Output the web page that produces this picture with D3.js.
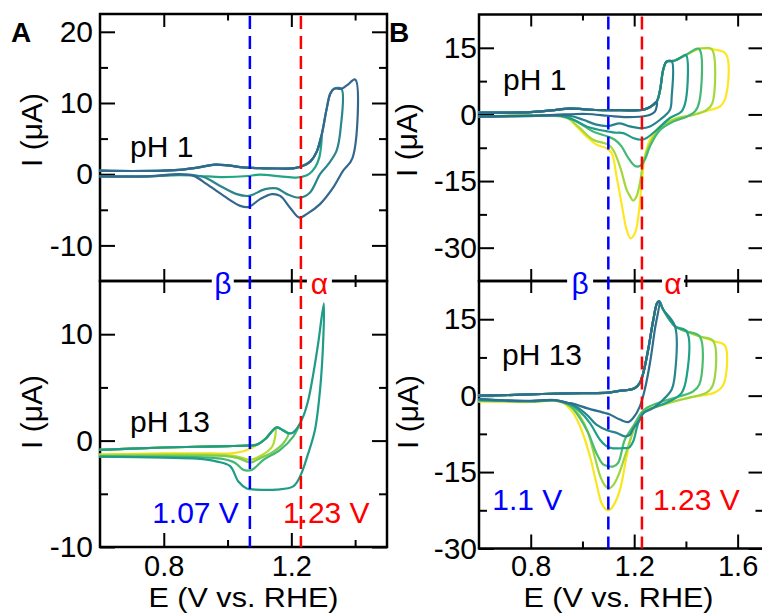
<!DOCTYPE html>
<html>
<head>
<meta charset="utf-8">
<script src="https://cdn.jsdelivr.net/npm/d3@7"></script>
<style>
  html, body { margin: 0; padding: 0; background: #fff; }
  svg { display: block; font-family: "Liberation Sans", Arial, Helvetica, sans-serif; }
</style>
</head>
<body>
<script>
// ---------------- Data: cyclic voltammograms, E (V vs. RHE) vs. I (µA) ----------------

// Panel A, pH 1 — shared anodic sweep and the cathodic return of each cycle
const aTopFwd = [[0.60,0.50],[0.70,0.45],[0.80,0.50],[0.86,0.65],[0.91,0.95],[0.96,1.35],[1.00,1.25],[1.05,0.95],[1.10,0.85],[1.16,0.80],[1.21,0.85],[1.235,1.15],[1.26,1.80],[1.28,3.20],[1.295,5.50],[1.31,9.00],[1.322,11.3],[1.334,12.0],[1.357,12.0],[1.375,12.5],[1.40,13.3]];
const aTopRet1 = [[1.295,5.5],[1.288,2.4],[1.275,1.0],[1.255,0.0],[1.235,-0.35],[1.215,-0.47],[1.165,-0.30],[1.10,-0.05],[1.065,-0.25],[0.98,-0.40],[0.915,-0.25],[0.85,-0.15],[0.75,-0.30],[0.60,-0.30]];
const aTopRet2 = [[1.357,12.0],[1.355,6.6],[1.342,3.3],[1.316,1.4],[1.29,0.0],[1.258,-2.6],[1.225,-3.3],[1.186,-2.8],[1.154,-2.0],[1.118,-2.1],[1.066,-3.05],[1.029,-2.8],[0.977,-1.65],[0.925,-0.4],[0.87,-0.05],[0.75,-0.30],[0.60,-0.30]];
const aTopRet3 = [[1.40,13.3],[1.392,2.3],[1.362,0.46],[1.331,-1.9],[1.29,-4.2],[1.248,-5.6],[1.225,-6.1],[1.196,-4.7],[1.165,-3.05],[1.139,-2.8],[1.102,-3.5],[1.066,-4.6],[1.04,-4.45],[0.988,-3.05],[0.935,-1.4],[0.894,-0.24],[0.852,0.0],[0.75,-0.30],[0.60,-0.30]];
const aTopColors = ["#22a486", "#2a858d", "#34678d"];

// Panel A, pH 13
const aBotFwd = [[0.60,-0.87],[0.70,-0.75],[0.80,-0.65],[0.90,-0.58],[1.00,-0.52],[1.06,-0.47],[1.09,-0.40],[1.12,0.20],[1.14,0.90],[1.155,1.25],[1.175,0.95],[1.19,0.69],[1.205,0.75],[1.217,1.10],[1.237,2.25],[1.253,3.80],[1.269,6.30],[1.284,9.10],[1.302,12.9]];
const aBotRet1 = [[1.09,-0.40],[1.075,-0.70],[1.05,-1.00],[1.01,-1.20],[0.95,-1.20],[0.80,-1.20],[0.60,-1.30]];
const aBotRet2 = [[1.15,1.20],[1.14,-0.56],[1.10,-1.50],[1.07,-1.80],[1.03,-1.50],[0.98,-1.35],[0.85,-1.30],[0.60,-1.35]];
const aBotRet3 = [[1.19,0.69],[1.175,-0.25],[1.144,-1.03],[1.102,-1.65],[1.071,-2.06],[1.034,-1.65],[0.99,-1.45],[0.90,-1.40],[0.60,-1.45]];
const aBotRet4 = [[1.225,1.50],[1.206,0.37],[1.165,-0.87],[1.113,-1.80],[1.076,-2.75],[1.05,-2.75],[1.024,-2.10],[0.98,-1.70],[0.90,-1.55],[0.60,-1.50]];
const aBotRet5 = [[1.302,12.9],[1.30,9.4],[1.29,4.75],[1.274,1.0],[1.253,-1.2],[1.227,-3.4],[1.206,-4.3],[1.154,-4.6],[1.087,-4.6],[1.06,-4.5],[1.034,-3.85],[1.008,-2.4],[0.967,-1.97],[0.904,-1.7],[0.80,-1.6],[0.60,-1.5]];
const aBotColors = ["#f3e21e", "#b2dc2e", "#7dcb50", "#44b873", "#1f9c88"];

// Panel B, pH 1
const bTopFwd = [[0.60,0.40],[0.70,0.40],[0.80,0.50],[0.88,0.90],[0.95,1.30],[1.00,1.20],[1.05,1.00],[1.15,0.95],[1.23,1.00],[1.26,1.60],[1.287,2.90],[1.30,5.50],[1.312,10.0],[1.325,11.9],[1.345,12.0],[1.36,12.2],[1.38,12.8],[1.40,13.4],[1.45,14.8],[1.467,14.9],[1.50,14.7],[1.555,13.6]];
const bTopRet1 = [[1.287,2.9],[1.28,0.65],[1.248,-0.3],[1.171,-0.6],[1.10,-0.3],[1.016,0.1],[0.93,0.0],[0.80,-0.3],[0.60,-0.45]];
const bTopRet2 = [[1.345,12.0],[1.345,4.0],[1.338,1.0],[1.30,-1.2],[1.261,-2.7],[1.229,-3.1],[1.183,-2.7],[1.145,-2.0],[1.10,-2.6],[1.054,-2.3],[1.003,-1.2],[0.951,-0.3],[0.85,-0.3],[0.60,-0.5]];
const bTopRet3 = [[1.40,13.4],[1.40,3.3],[1.383,0.65],[1.338,-0.8],[1.287,-3.5],[1.248,-5.3],[1.229,-5.7],[1.196,-5.3],[1.158,-4.2],[1.125,-4.1],[1.10,-3.85],[1.067,-3.5],[1.016,-2.7],[0.964,-1.2],[0.912,-0.3],[0.80,-0.4],[0.60,-0.5]];
const bTopRet4 = [[1.45,14.8],[1.452,2.9],[1.435,0.65],[1.403,-0.5],[1.351,-1.6],[1.30,-3.5],[1.261,-7.2],[1.241,-10.2],[1.222,-11.6],[1.203,-11.6],[1.177,-9.8],[1.151,-7.2],[1.125,-5.7],[1.10,-5.0],[1.041,-3.85],[0.99,-2.0],[0.938,-0.5],[0.85,-0.2],[0.60,-0.5]];
const bTopRet5 = [[1.50,14.7],[1.502,2.5],[1.48,1.0],[1.428,-0.1],[1.364,-0.9],[1.30,-3.0],[1.261,-6.5],[1.235,-11.0],[1.222,-15.5],[1.209,-18.5],[1.196,-19.4],[1.18,-18.0],[1.171,-17.0],[1.145,-11.7],[1.119,-8.0],[1.10,-6.8],[1.041,-5.7],[0.99,-3.1],[0.94,-0.8],[0.85,-0.2],[0.60,-0.5]];
const bTopRet6 = [[1.555,13.6],[1.554,4.0],[1.532,1.8],[1.493,1.0],[1.428,-0.1],[1.364,-0.8],[1.30,-2.7],[1.261,-5.7],[1.241,-9.5],[1.229,-15.5],[1.216,-23.0],[1.203,-26.7],[1.186,-27.9],[1.171,-26.0],[1.151,-20.0],[1.132,-14.0],[1.113,-8.7],[1.093,-7.6],[1.054,-6.8],[1.016,-5.0],[0.977,-2.7],[0.938,-0.6],[0.85,-0.2],[0.60,-0.5]];
const bTopColors = ["#2e6c8e", "#26838e", "#1f9c89", "#44b874", "#a2d83a", "#fde725"];

// Panel B, pH 13
const bBotFwd = [[0.60,0.00],[0.70,0.10],[0.80,0.25],[0.90,0.40],[1.00,0.50],[1.10,0.60],[1.15,1.00],[1.176,1.10],[1.203,1.50],[1.222,2.50],[1.235,4.40],[1.254,9.00],[1.274,14.9],[1.289,18.2],[1.297,18.5],[1.312,16.9],[1.358,13.6],[1.403,12.6],[1.454,11.6],[1.506,10.7],[1.551,9.8]];
const bBotRet1 = [[1.297,18.5],[1.28,13.0],[1.261,6.4],[1.241,1.2],[1.222,-2.1],[1.196,-4.4],[1.177,-5.2],[1.145,-4.7],[1.106,-3.7],[1.087,-3.4],[1.02,-2.5],[0.965,-1.6],[0.943,-1.4],[0.892,-0.86],[0.80,-1.0],[0.70,-0.9],[0.60,-0.7]];
const bBotRet2 = [[1.358,13.6],[1.358,4.4],[1.345,1.2],[1.312,-0.8],[1.274,-2.4],[1.235,-3.5],[1.222,-4.7],[1.196,-6.5],[1.183,-7.7],[1.164,-8.0],[1.132,-7.3],[1.10,-6.9],[1.054,-5.7],[1.016,-3.7],[0.975,-2.1],[0.943,-1.5],[0.892,-0.9],[0.80,-1.05],[0.70,-0.95],[0.60,-0.75]];
const bBotRet3 = [[1.403,12.6],[1.403,3.8],[1.383,0.5],[1.338,-1.1],[1.274,-2.4],[1.235,-3.4],[1.215,-5.5],[1.196,-9.0],[1.18,-10.2],[1.158,-10.3],[1.113,-10.3],[1.09,-9.8],[1.067,-8.6],[1.029,-5.4],[0.99,-3.1],[0.945,-1.5],[0.892,-0.9],[0.80,-1.1],[0.70,-1.0],[0.60,-0.85]];
const bBotRet4 = [[1.454,11.6],[1.452,2.2],[1.428,0.85],[1.377,-0.13],[1.312,-1.1],[1.248,-2.4],[1.229,-3.3],[1.196,-6.0],[1.164,-8.6],[1.138,-13.2],[1.119,-13.9],[1.106,-13.9],[1.08,-13.5],[1.054,-11.3],[1.022,-7.3],[0.99,-4.4],[0.951,-2.0],[0.892,-0.95],[0.80,-1.15],[0.70,-1.05],[0.60,-0.95]];
const bBotRet5 = [[1.506,10.7],[1.504,2.0],[1.48,0.6],[1.42,-0.3],[1.35,-1.2],[1.28,-2.3],[1.229,-3.4],[1.20,-6.5],[1.17,-11.0],[1.14,-15.5],[1.12,-17.5],[1.106,-18.1],[1.09,-17.8],[1.07,-16.0],[1.045,-11.5],[1.02,-7.0],[0.99,-4.0],[0.955,-2.0],[0.892,-1.0],[0.80,-1.2],[0.70,-1.1],[0.60,-1.05]];
const bBotRet6 = [[1.551,9.8],[1.548,2.5],[1.53,1.2],[1.506,0.5],[1.442,-0.13],[1.377,-0.8],[1.312,-1.8],[1.248,-2.75],[1.229,-3.4],[1.196,-6.7],[1.171,-11.9],[1.145,-18.5],[1.125,-21.1],[1.106,-22.4],[1.093,-22.4],[1.074,-21.1],[1.054,-17.2],[1.029,-11.9],[0.996,-6.7],[0.964,-3.4],[0.925,-1.4],[0.892,-1.0],[0.80,-1.25],[0.70,-1.2],[0.60,-1.2]];
const bBotColors = ["#2e6e8e", "#27858e", "#1fa088", "#4bbd6c", "#9cd63f", "#f8e620"];

// Axis ticks
const xMajorA = [0.8, 1.2], xMinorA = [1.0, 1.4];
const xMajorB = [0.8, 1.2, 1.6], xMinorB = [1.0, 1.4];
const yMajorATop = [20, 10, 0, -10], yMinorATop = [15, 5, -5];
const yMajorABot = [10, 0, -10], yMinorABot = [5, -5];
const yMajorB = [15, 0, -15, -30], yMinorB = [7.5, -7.5, -22.5];

// Redox potentials marked with dashed lines
const refA = [1.07, 1.23], refLabelsA = ["1.07 V", "1.23 V"];
const refB = [1.10, 1.23], refLabelsB = ["1.1 V", "1.23 V"];
const greek = ["β", "α"];
const greekPosA = [0.985, 1.288], greekPosB = [0.991, 1.35];

// ---------------- Drawing ----------------
const W = 762, H = 613;
const FONT = '"Liberation Sans", Arial, Helvetica, sans-serif';
const BLUE = "#0000ff", RED = "#ff0000";

const svg = d3.select("body").append("svg")
  .attr("width", W).attr("height", H)
  .attr("viewBox", `0 0 ${W} ${H}`);

const fmtX = d => d3.format(".1f")(d);
const fmtY = d => (d < 0 ? "-" : "") + Math.abs(d);

function tickGroup(g, axisFn, scale, values, size, fmt, pad, transform, fontSize) {
  const ax = axisFn(scale).tickValues(values).tickSize(size).tickSizeOuter(0)
    .tickPadding(pad || 0).tickFormat(fmt || (() => ""));
  const sel = g.append("g").attr("transform", transform).call(ax);
  sel.attr("font-family", FONT).attr("font-size", fontSize || 30);
  sel.select(".domain").remove();
  sel.selectAll(".tick line").attr("stroke", "#000").attr("stroke-width", 2);
  sel.selectAll(".tick text").attr("fill", "#000");
  return sel;
}

function cycle(fwd, ret) {
  const v = ret[0][0];
  return fwd.filter(p => p[0] < v - 1e-6).concat(ret);
}

function panel(opt) {
  const g = svg.append("g");
  const x = d3.scaleLinear().domain(opt.xDom).range([opt.x0, opt.x1]);
  const y = d3.scaleLinear().domain(opt.yDom).range([opt.y1, opt.y0]);

  // left / right ticks
  tickGroup(g, d3.axisLeft, y, opt.yMajor, -15, fmtY, opt.yPad, `translate(${opt.x0},0)`);
  tickGroup(g, d3.axisLeft, y, opt.yMinor, -8, null, 0, `translate(${opt.x0},0)`);
  tickGroup(g, d3.axisRight, y, opt.yMajor, -15, null, 0, `translate(${opt.x1},0)`);
  tickGroup(g, d3.axisRight, y, opt.yMinor, -8, null, 0, `translate(${opt.x1},0)`);

  // top / bottom ticks (inward)
  tickGroup(g, d3.axisTop, x, opt.xMajor, -opt.topLen, null, 0, `translate(0,${opt.y0})`);
  tickGroup(g, d3.axisTop, x, opt.xMinor, -opt.topLen / 2, null, 0, `translate(0,${opt.y0})`);
  tickGroup(g, d3.axisBottom, x, opt.xMajor, -opt.botLen, opt.xLabels ? fmtX : null, opt.xPad, `translate(0,${opt.y1})`, 29);
  tickGroup(g, d3.axisBottom, x, opt.xMinor, -opt.botLen / 2, null, 0, `translate(0,${opt.y1})`);

  // frame
  g.append("rect")
    .attr("x", opt.x0).attr("y", opt.y0)
    .attr("width", opt.x1 - opt.x0).attr("height", opt.y1 - opt.y0)
    .attr("fill", "none").attr("stroke", "#000").attr("stroke-width", 2.5);

  // curves
  const line = d3.line()
    .x(d => x(d[0])).y(d => y(d[1]))
    .curve(d3.curveCatmullRom.alpha(0.5));
  opt.order.forEach(i => {
    g.append("path")
      .datum(cycle(opt.fwd, opt.rets[i]))
      .attr("d", line)
      .attr("fill", "none")
      .attr("stroke", opt.colors[i])
      .attr("stroke-width", 2.2)
      .attr("stroke-linejoin", "round")
      .attr("stroke-linecap", "round");
  });

  // pH label
  g.append("text")
    .attr("x", opt.phX).attr("y", opt.phY)
    .attr("font-family", FONT).attr("font-size", 30).attr("fill", "#000")
    .text(opt.ph);

  // y-axis title
  g.append("text")
    .attr("transform", `translate(${opt.titleX},${opt.titleY}) rotate(-90)`)
    .attr("text-anchor", "middle")
    .attr("font-family", FONT).attr("font-size", 30).attr("fill", "#000")
    .text("I (μA)");

  return { x, y };
}

function column(cfg) {
  const top = panel(cfg.top);
  const bot = panel(cfg.bot);
  const x = top.x;

  // dashed reference lines spanning both panels
  cfg.refs.forEach((v, i) => {
    svg.append("line")
      .attr("x1", x(v)).attr("x2", x(v))
      .attr("y1", cfg.top.y0 + 2).attr("y2", cfg.bot.y1)
      .attr("stroke", i === 0 ? BLUE : RED)
      .attr("stroke-width", 2.5)
      .attr("stroke-dasharray", "13,7");
  });

  // greek labels sitting on the shared border
  cfg.greekPos.forEach((v, i) => {
    const cx = x(v);
    svg.append("rect")
      .attr("x", cx - cfg.greekW[i] / 2).attr("y", cfg.top.y1 - 10)
      .attr("width", cfg.greekW[i]).attr("height", 20)
      .attr("fill", "#fff");
    svg.append("text")
      .attr("x", cx).attr("y", cfg.top.y1 + 13)
      .attr("text-anchor", "middle")
      .attr("font-family", FONT).attr("font-size", 30)
      .attr("fill", i === 0 ? BLUE : RED)
      .text(greek[i]);
  });

  // potential labels
  cfg.refs.forEach((v, i) => {
    svg.append("text")
      .attr("x", x(v) + cfg.refDx[i]).attr("y", cfg.refY)
      .attr("text-anchor", i === 0 ? "end" : "start")
      .attr("font-family", FONT).attr("font-size", 30)
      .attr("fill", i === 0 ? BLUE : RED)
      .text(cfg.refLabels[i]);
  });

  // x-axis title
  svg.append("text")
    .attr("x", (cfg.top.x0 + Math.min(cfg.top.x1, W)) / 2 + cfg.xTitleDx).attr("y", 607.2)
    .attr("text-anchor", "middle")
    .attr("font-family", FONT).attr("font-size", 27).attr("fill", "#000")
    .attr("textLength", 190).attr("lengthAdjust", "spacingAndGlyphs")
    .text("E (V vs. RHE)");

  // panel letter
  svg.append("text")
    .attr("x", cfg.letterX).attr("y", 42)
    .attr("font-family", FONT).attr("font-size", 28).attr("font-weight", "bold")
    .attr("fill", "#000")
    .text(cfg.letter);
}

// Column A
column({
  letter: "A", letterX: 11,
  refs: refA, refLabels: refLabelsA, refDx: [-11, -18], refY: 523,
  greekPos: greekPosA, greekW: [22, 25], xTitleDx: 0,
  top: {
    x0: 100, x1: 387, xDom: [0.6, 1.5], y0: 14, y1: 281, yDom: [-15, 22.5],
    yMajor: yMajorATop, yMinor: yMinorATop, yPad: 7,
    xMajor: xMajorA, xMinor: xMinorA, topLen: 13, botLen: 12, xLabels: false, xPad: 0,
    fwd: aTopFwd, rets: [aTopRet1, aTopRet2, aTopRet3], colors: aTopColors, order: [0, 1, 2],
    ph: "pH 1", phX: 130, phY: 157, titleX: 42, titleY: 130
  },
  bot: {
    x0: 100, x1: 387, xDom: [0.6, 1.5], y0: 281, y1: 547, yDom: [-10, 15],
    yMajor: yMajorABot, yMinor: yMinorABot, yPad: 7,
    xMajor: xMajorA, xMinor: xMinorA, topLen: 12, botLen: 14, xLabels: true, xPad: 8.8,
    fwd: aBotFwd, rets: [aBotRet1, aBotRet2, aBotRet3, aBotRet4, aBotRet5], colors: aBotColors, order: [0, 1, 2, 3, 4],
    ph: "pH 13", phX: 130, phY: 432, titleX: 42, titleY: 412
  }
});

// Column B
column({
  letter: "B", letterX: 389,
  refs: refB, refLabels: refLabelsB, refDx: [-46, 11], refY: 510,
  greekPos: greekPosB, greekW: [26, 22], xTitleDx: -2,
  top: {
    x0: 479, x1: 763.5, xDom: [0.6, 1.7], y0: 14.5, y1: 281, yDom: [-37.5, 22.5],
    yMajor: yMajorB, yMinor: yMinorB, yPad: 2,
    xMajor: xMajorB, xMinor: xMinorB, topLen: 12, botLen: 12, xLabels: false, xPad: 0,
    fwd: bTopFwd, rets: [bTopRet1, bTopRet2, bTopRet3, bTopRet4, bTopRet5, bTopRet6], colors: bTopColors, order: [5, 4, 3, 2, 1, 0],
    ph: "pH 1", phX: 503, phY: 90, titleX: 417, titleY: 140
  },
  bot: {
    x0: 479, x1: 763.5, xDom: [0.6, 1.7], y0: 281, y1: 548.5, yDom: [-30, 22.5],
    yMajor: yMajorB, yMinor: yMinorB, yPad: 2,
    xMajor: xMajorB, xMinor: xMinorB, topLen: 12, botLen: 14, xLabels: true, xPad: 7.3,
    fwd: bBotFwd, rets: [bBotRet1, bBotRet2, bBotRet3, bBotRet4, bBotRet5, bBotRet6], colors: bBotColors, order: [5, 4, 3, 2, 1, 0],
    ph: "pH 13", phX: 502, phY: 365, titleX: 418, titleY: 412
  }
});
</script>
</body>
</html>
